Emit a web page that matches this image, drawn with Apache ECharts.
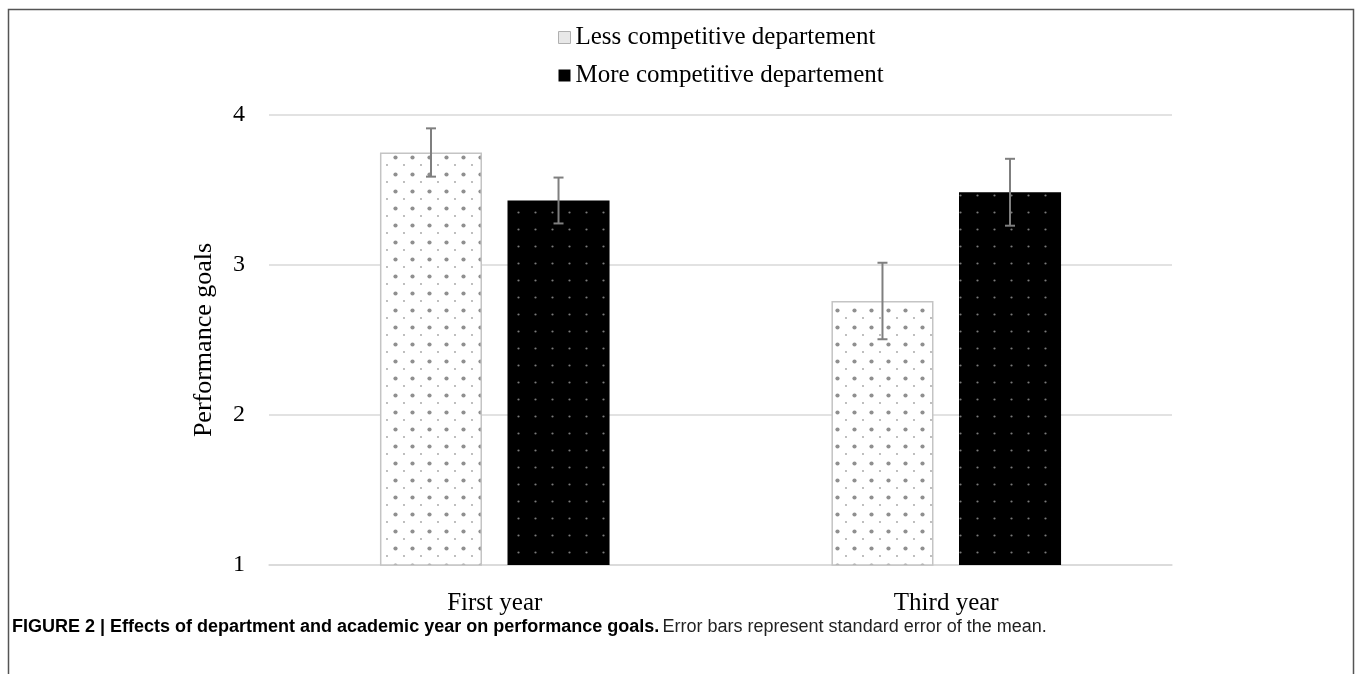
<!DOCTYPE html>
<html>
<head>
<meta charset="utf-8">
<script src="https://cdn.jsdelivr.net/npm/echarts@6/dist/echarts.min.js"></script>
<style>html,body{margin:0;padding:0;background:#fff}#c{width:1355px;height:674px}</style>
</head>
<body>
<div id="c"></div>
<script>
const categories = ['First year', 'Third year'];
const seriesNames = ['Less competitive departement', 'More competitive departement'];
const lessMeans = [3.75, 2.76];
const lessSE = [0.161, 0.255];
const moreMeans = [3.43, 3.485];
const moreSE = [0.153, 0.223];
const yTicks = [1, 2, 3, 4];

function makePattern(kind) {
  const cv = document.createElement('canvas');
  cv.width = 17; cv.height = 17;
  const ctx = cv.getContext('2d');
  if (kind === 'less') {
    ctx.fillStyle = '#ffffff'; ctx.fillRect(0, 0, 17, 17);
    ctx.fillStyle = '#8f8f8f';
    ctx.beginPath(); ctx.arc(4.5, 4.5, 2.1, 0, Math.PI * 2); ctx.fill();
    ctx.fillStyle = '#a0a0a0';
    ctx.beginPath(); ctx.arc(13, 12, 0.9, 0, Math.PI * 2); ctx.fill();
  } else {
    ctx.fillStyle = '#000000'; ctx.fillRect(0, 0, 17, 17);
    ctx.fillStyle = '#7a7a7a';
    ctx.beginPath(); ctx.arc(8.5, 8.5, 1.1, 0, Math.PI * 2); ctx.fill();
  }
  return { image: cv, repeat: 'repeat' };
}

const BAR_W = 0.226, BAR_GAP = 0.25;
const errData = [];
categories.forEach((c, i) => {
  errData.push([i, lessMeans[i] - lessSE[i], lessMeans[i] + lessSE[i], 0]);
  errData.push([i, moreMeans[i] - moreSE[i], moreMeans[i] + moreSE[i], 1]);
});

const chart = echarts.init(document.getElementById('c'));
const serif = 'Liberation Serif';
chart.setOption({
  animation: false,
  backgroundColor: '#ffffff',
  grid: { left: 269, right: 183, top: 115, bottom: 109, containLabel: false },
  legend: {
    orient: 'vertical', left: 553, top: 20, itemGap: 13,
    itemWidth: 12, itemHeight: 12, icon: 'rect',
    textStyle: { fontFamily: serif, fontSize: 25, color: '#000' },
    data: [
      { name: seriesNames[0], itemStyle: { color: '#e8e8e8', borderColor: '#b0b0b0', borderWidth: 1 } },
      { name: seriesNames[1], itemStyle: { color: '#000' } }
    ]
  },
  xAxis: {
    type: 'category', data: categories,
    axisLine: { lineStyle: { color: '#d9d9d9', width: 1.5 } },
    axisTick: { show: false },
    axisLabel: { fontFamily: serif, fontSize: 25, color: '#000', margin: 26 }
  },
  yAxis: {
    type: 'value', min: yTicks[0], max: yTicks[yTicks.length - 1], interval: 1,
    name: 'Performance goals', nameLocation: 'middle', nameGap: 52,
    nameTextStyle: { fontFamily: serif, fontSize: 26, color: '#000' },
    axisLine: { show: false }, axisTick: { show: false },
    axisLabel: { fontFamily: serif, fontSize: 24, color: '#000', margin: 24 },
    splitLine: { lineStyle: { color: '#d9d9d9', width: 1.5 } }
  },
  series: [
    {
      name: seriesNames[0], type: 'bar', data: lessMeans,
      barWidth: (BAR_W * 100) + '%', barGap: (BAR_GAP * 100) + '%',
      itemStyle: { color: makePattern('less'), borderColor: '#c4c4c4', borderWidth: 1.5 }
    },
    {
      name: seriesNames[1], type: 'bar', data: moreMeans,
      barWidth: (BAR_W * 100) + '%', barGap: (BAR_GAP * 100) + '%',
      itemStyle: { color: makePattern('more') }
    },
    {
      type: 'custom', data: errData, z: 10,
      encode: { x: 0, y: [1, 2] },
      renderItem: function (params, api) {
        const cat = api.value(0), lo = api.value(1), hi = api.value(2), s = api.value(3);
        const bandW = api.size([1, 0])[0];
        const w = bandW * BAR_W;
        const off = (w * (1 + BAR_GAP)) / 2 * (s === 0 ? -1 : 1);
        const pLo = api.coord([cat, lo]);
        const pHi = api.coord([cat, hi]);
        const x = pLo[0] + off;
        const cap = 5;
        const st = { stroke: '#7f7f7f', lineWidth: 2 };
        return {
          type: 'group',
          children: [
            { type: 'line', shape: { x1: x, y1: pLo[1], x2: x, y2: pHi[1] }, style: st },
            { type: 'line', shape: { x1: x - cap, y1: pLo[1], x2: x + cap, y2: pLo[1] }, style: st },
            { type: 'line', shape: { x1: x - cap, y1: pHi[1], x2: x + cap, y2: pHi[1] }, style: st }
          ]
        };
      }
    }
  ],
  graphic: [
    {
      type: 'polyline', silent: true,
      shape: { points: [[8.5, 700], [8.5, 9.5], [1353.5, 9.5], [1353.5, 700]] },
      style: { stroke: '#555', lineWidth: 1.5, fill: null }
    },
    {
      type: 'text', left: 12, top: 618,
      style: {
        text: '{b|FIGURE 2 | Effects of department and academic year on performance goals.} {n|Error bars represent standard error of the mean.}',
        rich: {
          b: { fontFamily: 'Liberation Sans', fontWeight: 'bold', fontSize: 18, fill: '#000' },
          n: { fontFamily: 'Liberation Sans', fontSize: 18, fill: '#222' }
        }
      }
    }
  ]
});
</script>
</body>
</html>
